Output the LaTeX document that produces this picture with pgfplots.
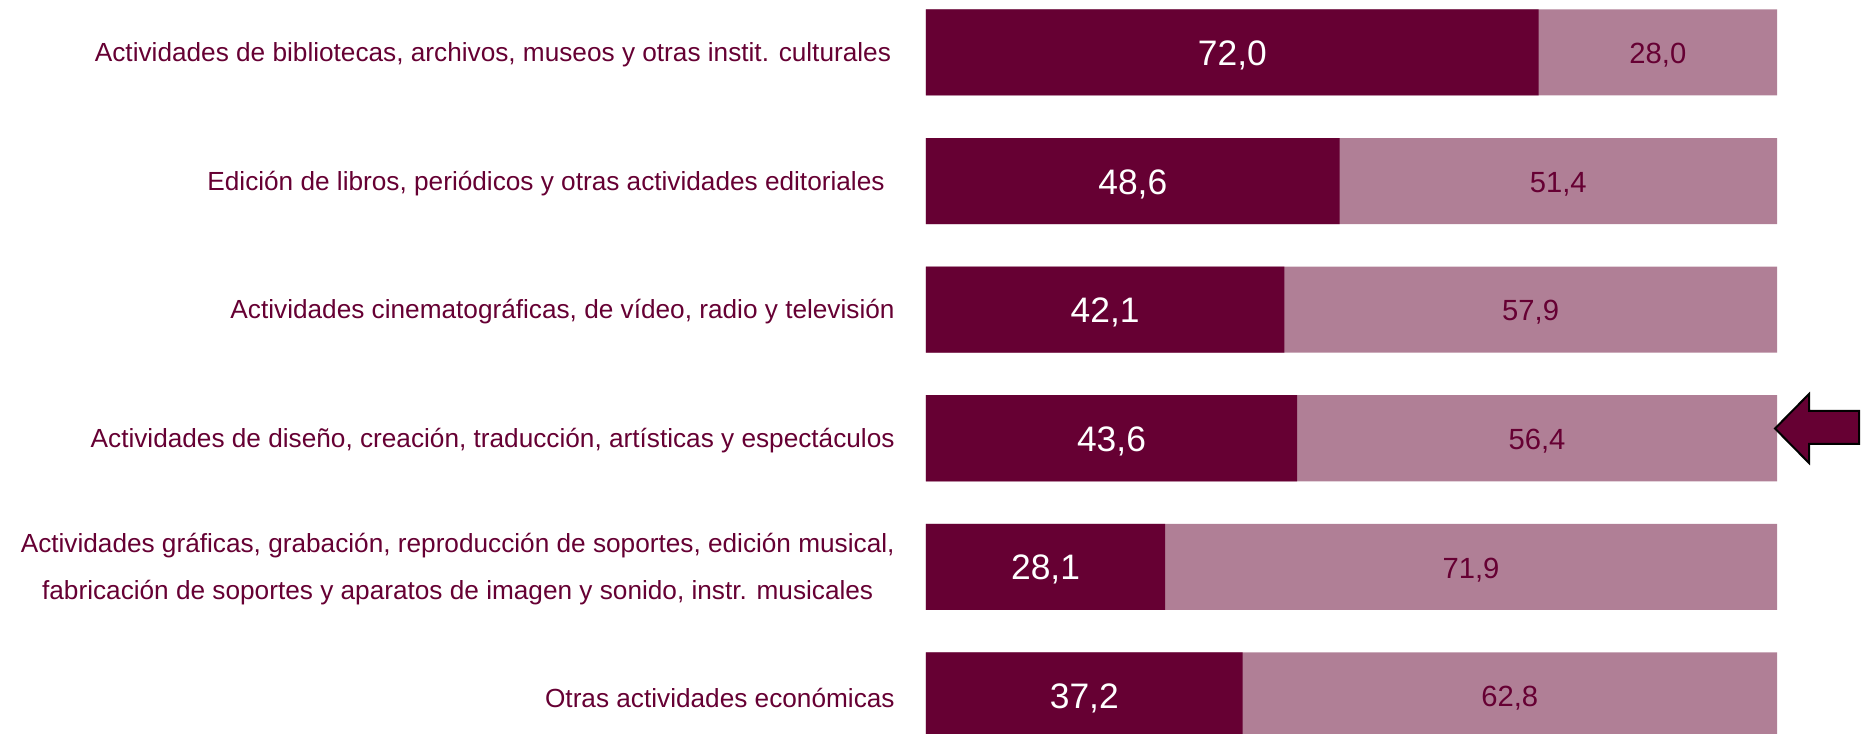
\documentclass[border=0pt]{standalone}
\usepackage{pgfplots}
\pgfplotsset{compat=1.18}
\usepackage{pgfplotstable}
\usepackage{fontspec}
\setmainfont{Liberation Sans}
\definecolor{darkm}{HTML}{660033}
\definecolor{lightm}{HTML}{B07F96}
\pgfplotstableread{
y dark light
0 72.0 28.0
1 48.6 51.4
2 42.1 57.9
3 43.6 56.4
4 28.1 71.9
5 37.2 62.8
}\datatable
\begin{document}
\begin{tikzpicture}
\useasboundingbox (-463pt,0pt) rectangle (470.5pt,366.5pt);
\begin{axis}[
  at={(0pt,0pt)}, anchor=south west,
  width=425.5pt, height=366.5pt, scale only axis,
  xmin=0, xmax=100,
  ymin=-0.408, ymax=5.292, y dir=reverse,
  axis lines*=left, axis line style={draw=none},
  tick style={draw=none},
  xtick=\empty,
  ytick={0,1,2,3,4,5},
  yticklabels={
    {Actividades de bibliotecas, archivos, museos y otras instit. culturales\kern1.8pt},
    {Edición de libros, periódicos y otras actividades editoriales\kern5pt},
    {Actividades cinematográficas, de vídeo, radio y televisión},
    {Actividades de diseño, creación, traducción, artísticas y espectáculos},
    {Actividades gráficas, grabación, reproducción de soportes, edición musical,\\fabricación de soportes y aparatos de imagen y sonido, instr. musicales},
    {Otras actividades económicas}},
  yticklabel style={font=\fontsize{13.1}{23.8}\selectfont, text=darkm, align=center, inner sep=0pt, xshift=-15.5pt, yshift=-1.2pt},
]
\addplot[xbar, bar width=0.669, bar shift=0pt, fill=lightm, draw=none]
  table[x expr=\thisrow{dark}+\thisrow{light}, y=y] {\datatable};
\addplot[xbar, bar width=0.669, bar shift=0pt, fill=darkm, draw=none]
  table[x=dark, y=y] {\datatable};
\addplot[draw=none, mark=none, point meta=explicit,
  nodes near coords={\pgfmathprintnumber[use comma,fixed,fixed zerofill,precision=1,assume math mode=true]{\pgfplotspointmeta}},
  nodes near coords style={anchor=center, yshift=-1.5pt, font=\fontsize{17.7}{20}\selectfont, text=white}]
  table[x expr=\thisrow{dark}/2, y=y, meta=dark] {\datatable};
\addplot[draw=none, mark=none, point meta=explicit,
  nodes near coords={\pgfmathprintnumber[use comma,fixed,fixed zerofill,precision=1,assume math mode=true]{\pgfplotspointmeta}},
  nodes near coords style={anchor=center, yshift=-1.5pt, font=\fontsize{14.6}{17}\selectfont, text=darkm}]
  table[x expr=\thisrow{dark}+\thisrow{light}/2, y=y, meta=light] {\datatable};
\end{axis}
\draw[fill=darkm, draw=black, line width=1pt, line join=miter]
  (424.5pt,152.25pt) -- (441.5pt,169.5pt) -- (441.5pt,161pt) -- (466.5pt,161pt)
  -- (466.5pt,144.5pt) -- (441.5pt,144.5pt) -- (441.5pt,135pt) -- cycle;
\end{tikzpicture}
\end{document}
